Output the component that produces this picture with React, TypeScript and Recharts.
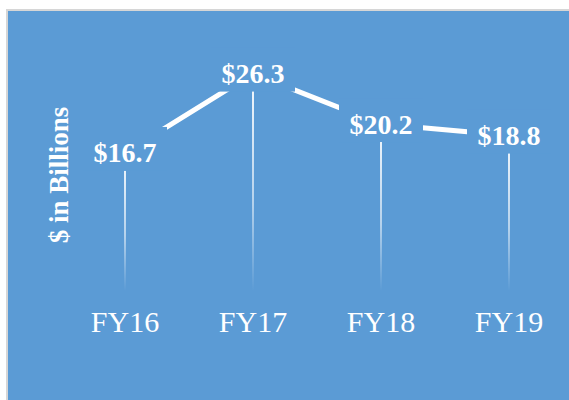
import { Bar, ComposedChart, LabelList, Line, XAxis, YAxis } from "recharts";

const years = ["FY16", "FY17", "FY18", "FY19"];
const revenue = [16.7, 26.3, 20.2, 18.8];
const valueLabels = ["$16.7", "$26.3", "$20.2", "$18.8"];

const BLUE = "#5B9BD5";
const SERIF = '"Liberation Serif", "Times New Roman", serif';

const data = years.map((year, i) => ({
  year,
  value: revenue[i],
  label: valueLabels[i],
}));

function YearTick(props: any) {
  const { x, y, payload } = props;
  return (
    <text
      x={x}
      y={y + 33}
      textAnchor="middle"
      fill="#ffffff"
      fontFamily={SERIF}
      fontSize={30}
    >
      {payload.value}
    </text>
  );
}

// blue box behind each value label hides the line near the point
function ValueLabel(props: any) {
  const { x, y, value } = props;
  return (
    <g>
      <rect x={x - 42} y={y - 26} width={84} height={44} fill={BLUE} />
      <text
        x={x}
        y={y}
        textAnchor="middle"
        dominantBaseline="central"
        fill="#ffffff"
        fontFamily={SERIF}
        fontWeight="bold"
        fontSize={28}
      >
        {value}
      </text>
    </g>
  );
}

export default function App() {
  return (
    <div
      style={{
        position: "absolute",
        left: 0,
        top: 0,
        width: 569,
        height: 400,
        overflow: "hidden",
        background: "#ffffff",
      }}
    >
      <div
        style={{
          position: "absolute",
          left: 6,
          top: 9,
          width: 620,
          height: 420,
          borderTop: "2px solid #d6d6d6",
          borderLeft: "2px solid #d6d6d6",
          background: BLUE,
        }}
      />
      <div style={{ position: "absolute", left: 0, top: 0 }}>
        <ComposedChart
          width={640}
          height={400}
          data={data}
          margin={{ top: 43, right: 67, left: 61, bottom: 59 }}
        >
          <defs>
            <linearGradient id="dropFade" x1="0" y1="0" x2="0" y2="1">
              <stop offset="0%" stopColor="#ffffff" stopOpacity={0.95} />
              <stop offset="60%" stopColor="#ffffff" stopOpacity={0.55} />
              <stop offset="100%" stopColor="#ffffff" stopOpacity={0} />
            </linearGradient>
          </defs>
          <XAxis
            dataKey="year"
            height={50}
            axisLine={false}
            tickLine={false}
            interval={0}
            tick={<YearTick />}
          />
          <YAxis hide domain={[0, 30]} />
          <Bar
            dataKey="value"
            barSize={2}
            fill="url(#dropFade)"
            isAnimationActive={false}
          />
          <Line
            dataKey="value"
            stroke="#ffffff"
            strokeWidth={5}
            dot={false}
            activeDot={false}
            isAnimationActive={false}
          >
            <LabelList dataKey="label" content={<ValueLabel />} />
          </Line>
        </ComposedChart>
      </div>
      <svg
        width={569}
        height={400}
        style={{ position: "absolute", left: 0, top: 0, pointerEvents: "none" }}
      >
        <text
          x={68}
          y={175}
          transform="rotate(-90 68 175)"
          textAnchor="middle"
          fill="#ffffff"
          fontFamily={SERIF}
          fontWeight="bold"
          fontSize={27}
        >
          $ in Billions
        </text>
      </svg>
    </div>
  );
}
